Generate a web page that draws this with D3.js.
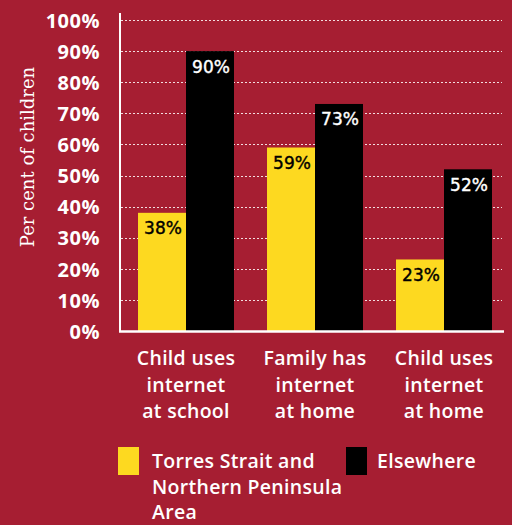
<!DOCTYPE html>
<meta charset="utf-8">
<title>Internet use by children</title>
<script src="https://d3js.org/d3.v7.min.js"></script>
<style>
  body { margin: 0; background: #a61e32; }
  svg { display: block; }
</style>
<body>
<svg id="chart" width="512" height="525"></svg>
</body>
<script>
    // data
    let categories = [
        ["Child uses", "internet", "at school"],
        ["Family has", "internet", "at home"],
        ["Child uses", "internet", "at home"]
    ]
    let seriesNames = ["Torres Strait and Northern Peninsula Area", "Elsewhere"]
    let torresValues = [38, 59, 23]
    let elsewhereValues = [90, 73, 52]
    let yTicks = [0, 10, 20, 30, 40, 50, 60, 70, 80, 90, 100]
    let legendLines = [["Torres Strait and", "Northern Peninsula", "Area"], ["Elsewhere"]]

    let colors = ["#fdd920", "#000000"]
    let labelColors = ["#000000", "#ffffff"]

    let svg = d3.select("#chart")
    svg.append("rect").attr("width", 512).attr("height", 525).attr("fill", "#a61e32")

    let plotLeft = 120, plotRight = 504, plotTop = 20, plotBottom = 331

    let y = d3.scaleLinear().domain([0, 100]).range([plotBottom, plotTop])
    let x0 = d3.scaleBand()
        .domain(d3.range(categories.length))
        .range([121.5, 508.5])
        .paddingInner(0.256)
        .paddingOuter(0.128)
    let x1 = d3.scaleBand().domain([0, 1]).range([0, x0.bandwidth()])

    // dotted grid
    svg.append("g")
        .selectAll("line")
        .data(yTicks.filter(d => d > 0))
        .enter().append("line")
        .attr("x1", plotLeft + 1).attr("x2", 502)
        .attr("y1", d => Math.round(y(d)) + 0.5)
        .attr("y2", d => Math.round(y(d)) + 0.5)
        .attr("stroke", "#fff")
        .attr("stroke-opacity", 0.85)
        .attr("stroke-dasharray", "2,2")

    // y axis labels
    let yAxis = d3.axisLeft(y).tickValues(yTicks).tickFormat(d => d + "%").tickSize(0).tickPadding(0)
    let gy = svg.append("g").attr("transform", "translate(100,0)").call(yAxis)
    gy.select(".domain").remove()
    gy.selectAll("text")
        .attr("fill", "#fff")
        .attr("dy", "0.36em")
        .style("font-family", "'Open Sans', sans-serif")
        .style("font-weight", 700)
        .style("font-size", "20px")
        .style("letter-spacing", "0.5px")

    // bars
    let values = [torresValues, elsewhereValues]
    let groups = svg.append("g")
        .selectAll("g")
        .data(categories.map((c, i) => i))
        .enter().append("g")
        .attr("transform", i => `translate(${x0(i)},0)`)

    let bars = groups.selectAll("g")
        .data(i => [0, 1].map(s => ({ s: s, v: values[s][i] })))
        .enter().append("g")

    bars.append("rect")
        .attr("x", d => x1(d.s))
        .attr("width", x1.bandwidth())
        .attr("y", d => y(d.v))
        .attr("height", d => plotBottom - y(d.v))
        .attr("fill", d => colors[d.s])

    bars.append("text")
        .attr("x", d => x1(d.s) + x1.bandwidth() / 2 + 1)
        .attr("y", d => y(d.v) + 21.5)
        .attr("text-anchor", "middle")
        .attr("fill", d => labelColors[d.s])
        .style("font-family", "'DejaVu Sans', sans-serif")
        .style("font-size", "17px")
        .style("stroke", d => labelColors[d.s])
        .style("stroke-width", 0.4)
        .text(d => d.v + "%")

    // axis lines
    svg.append("line")
        .attr("x1", plotLeft).attr("x2", plotLeft)
        .attr("y1", 13).attr("y2", plotBottom + 1)
        .attr("stroke", "#fff").attr("stroke-width", 2)
    svg.append("line")
        .attr("x1", plotLeft - 1).attr("x2", plotRight)
        .attr("y1", plotBottom + 0.5).attr("y2", plotBottom + 0.5)
        .attr("stroke", "#fff").attr("stroke-width", 2.5)

    // category labels
    svg.append("g")
        .selectAll("text")
        .data(categories)
        .enter().append("text")
        .attr("text-anchor", "middle")
        .attr("fill", "#fff")
        .style("font-family", "'Open Sans', sans-serif")
        .style("font-weight", 600)
        .style("font-size", "19.5px")
        .style("letter-spacing", "0.3px")
        .each(function (lines, i) {
            d3.select(this).selectAll("tspan")
                .data(lines)
                .enter().append("tspan")
                .attr("x", x0(i) + x0.bandwidth() / 2)
                .attr("y", (d, j) => 365 + j * 26.5)
                .text(d => d)
        })

    // y title
    svg.append("text")
        .attr("transform", "translate(34,157) rotate(-90)")
        .attr("text-anchor", "middle")
        .attr("fill", "#fff")
        .style("font-family", "'DejaVu Serif', serif")
        .style("font-size", "18px")
        .text("Per cent of children")

    // legend
    let legendX = [118, 346]
    let legend = svg.append("g")
        .selectAll("g")
        .data(seriesNames)
        .enter().append("g")
        .attr("transform", (d, i) => `translate(${legendX[i]},447)`)
    legend.append("rect")
        .attr("width", 21).attr("height", 28)
        .attr("fill", (d, i) => colors[i])
    legend.append("text")
        .attr("fill", "#fff")
        .style("font-family", "'Open Sans', sans-serif")
        .style("font-weight", 600)
        .style("font-size", "19.5px")
        .style("letter-spacing", "0.3px")
        .each(function (d, i) {
            d3.select(this).selectAll("tspan")
                .data(legendLines[i])
                .enter().append("tspan")
                .attr("x", i == 0 ? 34 : 31)
                .attr("y", (t, j) => 21 + j * 25.5)
                .text(t => t)
        })
</script>
